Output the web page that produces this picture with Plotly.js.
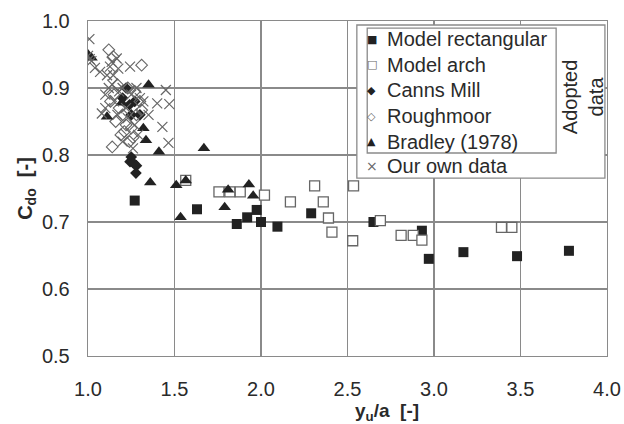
<!DOCTYPE html>
<html><head><meta charset="utf-8">
<script src="https://cdn.plot.ly/plotly-3.0.1.min.js"></script>
<style>html,body{margin:0;padding:0;background:#fff}#chart{width:624px;height:424px}</style>
</head><body><div id="chart"></div>
<script>
// Model rectangular (filled squares)
const rectX = [1.27, 1.63, 1.86, 1.92, 1.975, 2.0, 2.095, 2.29, 2.65, 2.93, 2.97, 3.17, 3.48, 3.78];
const rectY = [0.732, 0.719, 0.697, 0.707, 0.718, 0.700, 0.693, 0.713, 0.700, 0.687, 0.645, 0.655, 0.649, 0.657];
// Model arch (open squares)
const archX = [1.565, 1.757, 1.82, 1.88, 2.02, 2.17, 2.31, 2.36, 2.39, 2.41, 2.535, 2.53, 2.69, 2.81, 2.88, 2.93, 3.39, 3.45];
const archY = [0.762, 0.745, 0.745, 0.745, 0.740, 0.730, 0.754, 0.730, 0.706, 0.685, 0.754, 0.672, 0.702, 0.680, 0.680, 0.673, 0.692, 0.692];
// Canns Mill (filled diamonds)
const cannsX = [1.25, 1.243, 1.262, 1.28, 1.277, 1.20, 1.24, 1.27, 1.30, 1.25, 1.22];
const cannsY = [0.797, 0.790, 0.788, 0.784, 0.773, 0.885, 0.875, 0.880, 0.860, 0.860, 0.900];
// Roughmoor (open diamonds)
const roughX = [1.12, 1.146, 1.31, 1.14, 1.31, 1.15, 1.18, 1.20, 1.16, 1.22, 1.19, 1.24, 1.26, 1.28, 1.25, 1.23, 1.27, 1.30, 1.17, 1.13, 1.21];
const roughY = [0.957, 0.947, 0.934, 0.812, 0.867, 0.890, 0.870, 0.860, 0.850, 0.845, 0.830, 0.820, 0.826, 0.860, 0.840, 0.900, 0.895, 0.880, 0.905, 0.880, 0.835];
// Bradley (1978) (filled triangles)
const bradX = [1.00, 1.02, 1.11, 1.195, 1.35, 1.32, 1.335, 1.41, 1.67, 1.36, 1.51, 1.565, 1.535, 1.79, 1.81, 1.93, 1.955];
const bradY = [0.950, 0.945, 0.857, 0.878, 0.905, 0.840, 0.822, 0.805, 0.810, 0.759, 0.755, 0.762, 0.707, 0.722, 0.748, 0.756, 0.739];
// Our own data (crosses)
const ownX = [1.008, 1.0, 1.01, 1.02, 1.04, 1.07, 1.11, 1.127, 1.137, 1.166, 1.175, 1.146, 1.243, 1.45, 1.47, 1.40, 1.43, 1.465, 1.08, 1.10, 1.12, 1.15, 1.18, 1.20, 1.22, 1.25, 1.28, 1.30, 1.17, 1.23, 1.27, 1.32, 1.35, 1.10, 1.14, 1.20, 1.26, 1.29];
const ownY = [0.973, 0.948, 0.943, 0.940, 0.930, 0.924, 0.919, 0.932, 0.939, 0.944, 0.929, 0.919, 0.932, 0.897, 0.876, 0.877, 0.842, 0.818, 0.862, 0.890, 0.900, 0.880, 0.895, 0.900, 0.870, 0.890, 0.900, 0.885, 0.860, 0.855, 0.845, 0.880, 0.860, 0.870, 0.905, 0.820, 0.810, 0.830];

const xTicks = [1.0, 1.5, 2.0, 2.5, 3.0, 3.5, 4.0];
const yTicks = [0.5, 0.6, 0.7, 0.8, 0.9, 1.0];
const seriesNames = ['Model rectangular', 'Model arch', 'Canns Mill', 'Roughmoor', 'Bradley (1978)', 'Our own data'];
const legendGlyphs = ['\u25A0', '\u25A1', '\u25C6', '\u25C7', '\u25B2', '\u00D7'];

const ink = '#222';
const gray = '#666';
const txt = '#2a2a2a';
const traces = [
  {name:seriesNames[0], x:rectX, y:rectY, type:'scatter', mode:'markers',
   marker:{symbol:'square', size:10, color:ink, line:{width:0}}},
  {name:seriesNames[1], x:archX, y:archY, type:'scatter', mode:'markers',
   marker:{symbol:'square', size:10, color:'#fff', line:{color:gray, width:1.3}}},
  {name:seriesNames[2], x:cannsX, y:cannsY, type:'scatter', mode:'markers',
   marker:{symbol:'diamond', size:9, color:ink, line:{width:0}}},
  {name:seriesNames[3], x:roughX, y:roughY, type:'scatter', mode:'markers',
   marker:{symbol:'diamond-open', size:9, color:gray, line:{color:gray, width:1.1}}},
  {name:seriesNames[4], x:bradX, y:bradY, type:'scatter', mode:'markers',
   marker:{symbol:'triangle-up', size:11, color:ink, line:{width:0}}},
  {name:seriesNames[5], x:ownX, y:ownY, type:'scatter', mode:'markers',
   marker:{symbol:'x-thin-open', size:10, color:gray, line:{color:gray, width:1.2}}}
];

// legend built from annotations (rows in paper coords)
const rowY = [0.946, 0.869, 0.794, 0.716, 0.639, 0.567];
const glyphColors = [ink, gray, ink, gray, ink, gray];
const glyphSizes = [11, 11, 11, 11, 11, 14];
const annotations = [];
seriesNames.forEach((n, i) => {
  annotations.push({xref:'paper', yref:'paper', x:0.572, y:rowY[i], text:n, showarrow:false,
    xanchor:'left', yanchor:'middle', font:{size:20, color:txt}});
  annotations.push({xref:'paper', yref:'paper', x:0.547, y:rowY[i], text:legendGlyphs[i], showarrow:false,
    xanchor:'center', yanchor:'middle', font:{family:'DejaVu Sans', size:glyphSizes[i], color:glyphColors[i]}});
});
annotations.push({xref:'paper', yref:'paper', x:0.954, y:0.773, text:'Adopted<br>data', textangle:-90,
  showarrow:false, font:{size:20, color:txt}, xanchor:'center', yanchor:'middle'});
annotations.push({xref:'paper', yref:'paper', x:0.576, y:-0.168, text:'<b>y<sub>u</sub>/a  [-]</b>',
  showarrow:false, font:{size:19, color:txt}, xanchor:'center', yanchor:'middle'});

const gridC = '#8a8a8a';
const layout = {
  width:624, height:424,
  margin:{l:88, r:17, t:21, b:68},
  paper_bgcolor:'#fff', plot_bgcolor:'#fff',
  font:{family:'Liberation Sans, Arial, sans-serif', size:20, color:txt},
  showlegend:false,
  xaxis:{range:[1.0,4.0], tickvals:xTicks, ticktext:xTicks.map(v=>v.toFixed(1)),
         showgrid:true, gridcolor:gridC, gridwidth:1.3, zeroline:false,
         showline:true, linecolor:gridC, linewidth:1.3, mirror:true,
         ticks:'outside', ticklen:8, tickcolor:'rgba(0,0,0,0)', ticklabelstandoff:7},
  yaxis:{range:[0.5,1.0], tickvals:yTicks, ticktext:yTicks.map(v=>v.toFixed(1)),
         showgrid:true, gridcolor:gridC, gridwidth:1.3, zeroline:false,
         showline:true, linecolor:gridC, linewidth:1.3, mirror:true, ticks:'', ticklabelstandoff:13,
         title:{text:'<b>C<sub>do</sub>  [-]</b>', standoff:4, font:{size:20}}},
  shapes:[
    {type:'rect', xref:'paper', yref:'paper', x0:0.518, x1:0.996, y0:0.531, y1:0.988,
     layer:'above', fillcolor:'#fff', line:{color:gridC, width:1.3}},
    {type:'rect', xref:'paper', yref:'paper', x0:0.538, x1:0.902, y0:0.606, y1:0.979,
     layer:'above', fillcolor:'rgba(0,0,0,0)', line:{color:gridC, width:1.3}}
  ],
  annotations:annotations
};
Plotly.newPlot('chart', traces, layout, {staticPlot:true, displayModeBar:false});
</script></body></html>
